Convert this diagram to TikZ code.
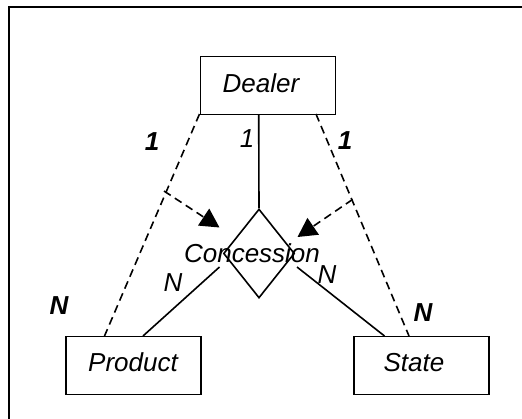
\documentclass[tikz,border=0pt]{standalone}
\usepackage{fontspec}
\setmainfont{Liberation Sans}
\usetikzlibrary{shapes.geometric,arrows.meta}
\tikzset{
  entity/.style={draw, line width=1.6pt, minimum width=135pt, minimum height=58pt, inner sep=0pt},
  rel/.style={draw, diamond, line width=1.6pt, minimum width=71pt, minimum height=89pt, inner sep=0pt},
  txt/.style={anchor=base, inner sep=0pt, font=\fontsize{26}{30}\selectfont\itshape},
  btxt/.style={anchor=base, inner sep=0pt, font=\fontsize{26}{30}\selectfont\bfseries\itshape},
  solidline/.style={line width=1.6pt},
  dashline/.style={line width=1.6pt, dash pattern=on 8pt off 5pt},
  dasharrow/.style={line width=1.6pt, dash pattern=on 8pt off 5pt, -{Triangle[length=19pt,width=20pt]}},
}
\begin{document}
\begin{tikzpicture}[x=1pt,y=-1pt]
\useasboundingbox (0,0) rectangle (522,418);
% outer frame (top and left edges visible)
\draw[line width=2pt] (8.5,419) -- (8.5,6.5) -- (523,6.5);
% entities
\node[entity] (dealer) at (268,85.5) {};
\node[entity] (product) at (133.5,365.5) {};
\node[entity] (state) at (421.5,365.5) {};
\node[rel] (conc) at (259,253.5) {};
% texts
\node[txt] (tdealer) at (261,92) {Dealer};
\node[txt] (tproduct) at (133,371) {Product};
\node[txt] (tstate) at (414,371) {State};
\node[txt] (tconc) at (252,262) {Concession};
% coordinates
\coordinate (d1) at (199.5,114);
\coordinate (d2) at (316,114);
\coordinate (d3) at (258.7,114);
\coordinate (p1) at (104.5,336);
\coordinate (p2) at (143,336);
\coordinate (s1) at (409,336);
\coordinate (s2) at (384.5,336);
\coordinate (cl) at (219.5,267);
\coordinate (cr) at (297,267);
\coordinate (al) at (164,191);
\coordinate (ar) at (352.5,199.5);
\coordinate (tl) at (219.5,227.5);
\coordinate (tr) at (297.5,237);
% connectors
\draw[solidline] (d3) -- (conc.north);
\draw[solidline] (cl) -- (p2);
\draw[solidline] (cr) -- (s2);
\draw[dashline] (d1) -- (p1);
\draw[dashline] (d2) -- (s1);
\draw[dasharrow] (al) -- (tl);
\draw[dasharrow] (ar) -- (tr);
% cardinalities
\node[btxt] (l1) at (152,150) {1};
\node[txt] (l2) at (247,147) {1};
\node[btxt] (l3) at (345,149) {1};
\node[btxt] (l4) at (59,314) {N};
\node[txt] (l5) at (173,291) {N};
\node[txt] (l6) at (327,283) {N};
\node[btxt] (l7) at (423,321) {N};
\end{tikzpicture}
\end{document}
